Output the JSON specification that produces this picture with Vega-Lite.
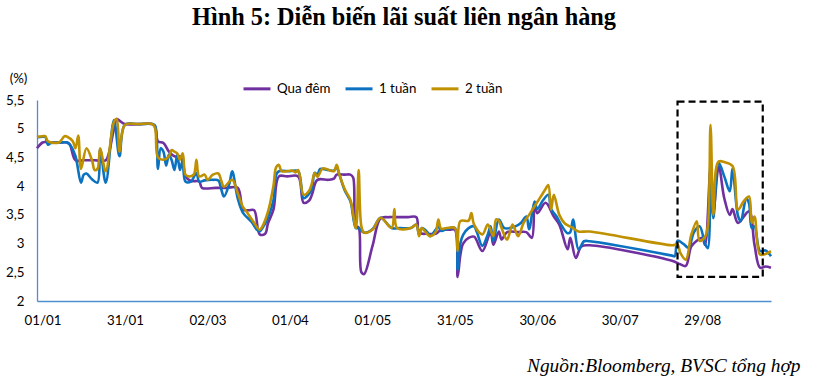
{
"$schema":"https://vega.github.io/schema/vega-lite/v6.json",
"width":734,"height":201,
"autosize":{"type":"none"},
"padding":{"left":37,"top":100,"right":45,"bottom":88},
"background":"white",
"config":{"view":{"stroke":null},"font":"Lato","locale":{"number":{"decimal":",","thousands":".","grouping":[3],"currency":["","đ"]}}},
"title":{"text":"Hình 5: Diễn biến lãi suất liên ngân hàng","font":"Liberation Serif","fontSize":24.3,"fontWeight":"bold","anchor":"middle","frame":"group","offset":41,"color":"#000"},
"datasets":{
"rates":[
{"d":"2018/12/30","s":"Qua đêm","v":4.66},{"d":"2019/01/01","s":"Qua đêm","v":4.76},{"d":"2019/01/02","s":"Qua đêm","v":4.77},{"d":"2019/01/04","s":"Qua đêm","v":4.76},{"d":"2019/01/07","s":"Qua đêm","v":4.76},{"d":"2019/01/10","s":"Qua đêm","v":4.76},{"d":"2019/01/11","s":"Qua đêm","v":4.72},{"d":"2019/01/13","s":"Qua đêm","v":4.45},{"d":"2019/01/16","s":"Qua đêm","v":4.45},{"d":"2019/01/20","s":"Qua đêm","v":4.45},{"d":"2019/01/24","s":"Qua đêm","v":4.45},{"d":"2019/01/25","s":"Qua đêm","v":4.55},{"d":"2019/01/27","s":"Qua đêm","v":5.0},{"d":"2019/01/28","s":"Qua đêm","v":5.17},{"d":"2019/01/29","s":"Qua đêm","v":5.14},{"d":"2019/01/31","s":"Qua đêm","v":5.08},{"d":"2019/02/05","s":"Qua đêm","v":5.08},{"d":"2019/02/10","s":"Qua đêm","v":5.08},{"d":"2019/02/11","s":"Qua đêm","v":5.03},{"d":"2019/02/12","s":"Qua đêm","v":4.78},{"d":"2019/02/14","s":"Qua đêm","v":4.75},{"d":"2019/02/16","s":"Qua đêm","v":4.6},{"d":"2019/02/18","s":"Qua đêm","v":4.52},{"d":"2019/02/20","s":"Qua đêm","v":4.52},{"d":"2019/02/21","s":"Qua đêm","v":4.45},{"d":"2019/02/22","s":"Qua đêm","v":4.17},{"d":"2019/02/24","s":"Qua đêm","v":4.09},{"d":"2019/02/27","s":"Qua đêm","v":4.08},{"d":"2019/02/28","s":"Qua đêm","v":3.97},{"d":"2019/03/05","s":"Qua đêm","v":3.97},{"d":"2019/03/09","s":"Qua đêm","v":3.97},{"d":"2019/03/13","s":"Qua đêm","v":3.97},{"d":"2019/03/15","s":"Qua đêm","v":3.59},{"d":"2019/03/17","s":"Qua đêm","v":3.58},{"d":"2019/03/19","s":"Qua đêm","v":3.58},{"d":"2019/03/21","s":"Qua đêm","v":3.16},{"d":"2019/03/23","s":"Qua đêm","v":3.17},{"d":"2019/03/24","s":"Qua đêm","v":3.35},{"d":"2019/03/26","s":"Qua đêm","v":3.59},{"d":"2019/03/28","s":"Qua đêm","v":4.17},{"d":"2019/03/31","s":"Qua đêm","v":4.17},{"d":"2019/04/04","s":"Qua đêm","v":4.17},{"d":"2019/04/06","s":"Qua đêm","v":3.71},{"d":"2019/04/08","s":"Qua đêm","v":3.75},{"d":"2019/04/09","s":"Qua đêm","v":3.85},{"d":"2019/04/11","s":"Qua đêm","v":4.11},{"d":"2019/04/15","s":"Qua đêm","v":4.11},{"d":"2019/04/17","s":"Qua đêm","v":4.13},{"d":"2019/04/18","s":"Qua đêm","v":4.2},{"d":"2019/04/21","s":"Qua đêm","v":4.2},{"d":"2019/04/23","s":"Qua đêm","v":4.2},{"d":"2019/04/24","s":"Qua đêm","v":4.15},{"d":"2019/04/25","s":"Qua đêm","v":3.3},{"d":"2019/04/26","s":"Qua đêm","v":3.28},{"d":"2019/04/27","s":"Qua đêm","v":2.5},{"d":"2019/04/28","s":"Qua đêm","v":2.47},{"d":"2019/05/01","s":"Qua đêm","v":2.95},{"d":"2019/05/04","s":"Qua đêm","v":3.44},{"d":"2019/05/07","s":"Qua đêm","v":3.46},{"d":"2019/05/11","s":"Qua đêm","v":3.46},{"d":"2019/05/14","s":"Qua đêm","v":3.46},{"d":"2019/05/17","s":"Qua đêm","v":3.46},{"d":"2019/05/18","s":"Qua đêm","v":3.19},{"d":"2019/05/21","s":"Qua đêm","v":3.17},{"d":"2019/05/24","s":"Qua đêm","v":3.17},{"d":"2019/05/26","s":"Qua đêm","v":3.24},{"d":"2019/05/29","s":"Qua đêm","v":3.24},{"d":"2019/05/31","s":"Qua đêm","v":3.24},{"d":"2019/06/01","s":"Qua đêm","v":2.42},{"d":"2019/06/02","s":"Qua đêm","v":2.8},{"d":"2019/06/03","s":"Qua đêm","v":3.0},{"d":"2019/06/05","s":"Qua đêm","v":3.1},{"d":"2019/06/07","s":"Qua đêm","v":3.12},{"d":"2019/06/10","s":"Qua đêm","v":2.87},{"d":"2019/06/13","s":"Qua đêm","v":3.2},{"d":"2019/06/14","s":"Qua đêm","v":2.98},{"d":"2019/06/16","s":"Qua đêm","v":3.21},{"d":"2019/06/17","s":"Qua đêm","v":3.07},{"d":"2019/06/19","s":"Qua đêm","v":3.2},{"d":"2019/06/23","s":"Qua đêm","v":3.2},{"d":"2019/06/26","s":"Qua đêm","v":3.2},{"d":"2019/06/28","s":"Qua đêm","v":3.1},{"d":"2019/06/29","s":"Qua đêm","v":3.71},{"d":"2019/06/30","s":"Qua đêm","v":3.53},{"d":"2019/07/03","s":"Qua đêm","v":3.71},{"d":"2019/07/06","s":"Qua đêm","v":3.47},{"d":"2019/07/08","s":"Qua đêm","v":3.33},{"d":"2019/07/11","s":"Qua đêm","v":2.9},{"d":"2019/07/12","s":"Qua đêm","v":3.1},{"d":"2019/07/14","s":"Qua đêm","v":2.75},{"d":"2019/07/16","s":"Qua đêm","v":2.95},{"d":"2019/07/19","s":"Qua đêm","v":2.97},{"d":"2019/08/18","s":"Qua đêm","v":2.7},{"d":"2019/08/21","s":"Qua đêm","v":2.64},{"d":"2019/08/23","s":"Qua đêm","v":2.61},{"d":"2019/08/25","s":"Qua đêm","v":2.95},{"d":"2019/08/27","s":"Qua đêm","v":3.05},{"d":"2019/08/29","s":"Qua đêm","v":3.1},{"d":"2019/08/30","s":"Qua đêm","v":2.98},{"d":"2019/09/01","s":"Qua đêm","v":4.31},{"d":"2019/09/02","s":"Qua đêm","v":3.53},{"d":"2019/09/04","s":"Qua đêm","v":4.34},{"d":"2019/09/06","s":"Qua đêm","v":3.79},{"d":"2019/09/08","s":"Qua đêm","v":3.5},{"d":"2019/09/09","s":"Qua đêm","v":3.6},{"d":"2019/09/11","s":"Qua đêm","v":3.36},{"d":"2019/09/15","s":"Qua đêm","v":3.56},{"d":"2019/09/17","s":"Qua đêm","v":2.98},{"d":"2019/09/19","s":"Qua đêm","v":2.58},{"d":"2019/09/21","s":"Qua đêm","v":2.6},{"d":"2019/09/23","s":"Qua đêm","v":2.58},
{"d":"2018/12/30","s":"1 tuần","v":4.85},{"d":"2019/01/01","s":"1 tuần","v":4.86},{"d":"2019/01/02","s":"1 tuần","v":4.86},{"d":"2019/01/03","s":"1 tuần","v":4.72},{"d":"2019/01/04","s":"1 tuần","v":4.75},{"d":"2019/01/07","s":"1 tuần","v":4.76},{"d":"2019/01/10","s":"1 tuần","v":4.76},{"d":"2019/01/11","s":"1 tuần","v":4.72},{"d":"2019/01/13","s":"1 tuần","v":4.52},{"d":"2019/01/15","s":"1 tuần","v":4.06},{"d":"2019/01/16","s":"1 tuần","v":4.2},{"d":"2019/01/17","s":"1 tuần","v":4.22},{"d":"2019/01/19","s":"1 tuần","v":4.12},{"d":"2019/01/21","s":"1 tuần","v":4.06},{"d":"2019/01/22","s":"1 tuần","v":4.64},{"d":"2019/01/24","s":"1 tuần","v":4.06},{"d":"2019/01/27","s":"1 tuần","v":5.15},{"d":"2019/01/29","s":"1 tuần","v":4.52},{"d":"2019/01/31","s":"1 tuần","v":5.07},{"d":"2019/02/05","s":"1 tuần","v":5.08},{"d":"2019/02/10","s":"1 tuần","v":5.08},{"d":"2019/02/11","s":"1 tuần","v":5.05},{"d":"2019/02/12","s":"1 tuần","v":4.3},{"d":"2019/02/13","s":"1 tuần","v":4.66},{"d":"2019/02/14","s":"1 tuần","v":4.6},{"d":"2019/02/15","s":"1 tuần","v":4.36},{"d":"2019/02/16","s":"1 tuần","v":4.55},{"d":"2019/02/17","s":"1 tuần","v":4.45},{"d":"2019/02/18","s":"1 tuần","v":4.28},{"d":"2019/02/19","s":"1 tuần","v":4.55},{"d":"2019/02/20","s":"1 tuần","v":4.28},{"d":"2019/02/21","s":"1 tuần","v":4.45},{"d":"2019/02/22","s":"1 tuần","v":4.08},{"d":"2019/02/24","s":"1 tuần","v":4.08},{"d":"2019/02/26","s":"1 tuần","v":4.23},{"d":"2019/02/27","s":"1 tuần","v":4.08},{"d":"2019/03/01","s":"1 tuần","v":4.1},{"d":"2019/03/04","s":"1 tuần","v":4.11},{"d":"2019/03/06","s":"1 tuần","v":4.1},{"d":"2019/03/07","s":"1 tuần","v":3.95},{"d":"2019/03/08","s":"1 tuần","v":3.82},{"d":"2019/03/10","s":"1 tuần","v":4.05},{"d":"2019/03/11","s":"1 tuần","v":4.26},{"d":"2019/03/13","s":"1 tuần","v":3.79},{"d":"2019/03/15","s":"1 tuần","v":3.53},{"d":"2019/03/18","s":"1 tuần","v":3.38},{"d":"2019/03/20","s":"1 tuần","v":3.24},{"d":"2019/03/21","s":"1 tuần","v":3.21},{"d":"2019/03/22","s":"1 tuần","v":3.27},{"d":"2019/03/24","s":"1 tuần","v":3.45},{"d":"2019/03/26","s":"1 tuần","v":3.75},{"d":"2019/03/27","s":"1 tuần","v":4.2},{"d":"2019/03/28","s":"1 tuần","v":4.26},{"d":"2019/04/01","s":"1 tuần","v":4.26},{"d":"2019/04/04","s":"1 tuần","v":4.26},{"d":"2019/04/06","s":"1 tuần","v":3.79},{"d":"2019/04/08","s":"1 tuần","v":3.87},{"d":"2019/04/09","s":"1 tuần","v":3.95},{"d":"2019/04/10","s":"1 tuần","v":4.23},{"d":"2019/04/11","s":"1 tuần","v":4.2},{"d":"2019/04/12","s":"1 tuần","v":4.3},{"d":"2019/04/15","s":"1 tuần","v":4.28},{"d":"2019/04/17","s":"1 tuần","v":4.27},{"d":"2019/04/18","s":"1 tuần","v":4.33},{"d":"2019/04/19","s":"1 tuần","v":4.2},{"d":"2019/04/21","s":"1 tuần","v":3.92},{"d":"2019/04/23","s":"1 tuần","v":3.74},{"d":"2019/04/25","s":"1 tuần","v":3.27},{"d":"2019/04/26","s":"1 tuần","v":3.27},{"d":"2019/04/28","s":"1 tuần","v":3.19},{"d":"2019/05/01","s":"1 tuần","v":3.25},{"d":"2019/05/04","s":"1 tuần","v":3.45},{"d":"2019/05/08","s":"1 tuần","v":3.27},{"d":"2019/05/11","s":"1 tuần","v":3.27},{"d":"2019/05/15","s":"1 tuần","v":3.27},{"d":"2019/05/17","s":"1 tuần","v":3.33},{"d":"2019/05/18","s":"1 tuần","v":3.16},{"d":"2019/05/19","s":"1 tuần","v":3.27},{"d":"2019/05/21","s":"1 tuần","v":3.2},{"d":"2019/05/22","s":"1 tuần","v":3.13},{"d":"2019/05/24","s":"1 tuần","v":3.24},{"d":"2019/05/25","s":"1 tuần","v":3.3},{"d":"2019/05/26","s":"1 tuần","v":3.22},{"d":"2019/05/28","s":"1 tuần","v":3.25},{"d":"2019/05/31","s":"1 tuần","v":3.27},{"d":"2019/06/01","s":"1 tuần","v":2.55},{"d":"2019/06/02","s":"1 tuần","v":3.0},{"d":"2019/06/03","s":"1 tuần","v":3.15},{"d":"2019/06/05","s":"1 tuần","v":3.27},{"d":"2019/06/07","s":"1 tuần","v":3.3},{"d":"2019/06/08","s":"1 tuần","v":3.2},{"d":"2019/06/10","s":"1 tuần","v":2.96},{"d":"2019/06/12","s":"1 tuần","v":3.16},{"d":"2019/06/13","s":"1 tuần","v":3.3},{"d":"2019/06/14","s":"1 tuần","v":3.04},{"d":"2019/06/16","s":"1 tuần","v":3.42},{"d":"2019/06/18","s":"1 tuần","v":3.27},{"d":"2019/06/22","s":"1 tuần","v":3.3},{"d":"2019/06/24","s":"1 tuần","v":3.36},{"d":"2019/06/26","s":"1 tuần","v":3.47},{"d":"2019/06/27","s":"1 tuần","v":3.25},{"d":"2019/06/29","s":"1 tuần","v":3.73},{"d":"2019/06/30","s":"1 tuần","v":3.6},{"d":"2019/07/02","s":"1 tuần","v":3.75},{"d":"2019/07/04","s":"1 tuần","v":3.85},{"d":"2019/07/05","s":"1 tuần","v":3.6},{"d":"2019/07/07","s":"1 tuần","v":3.47},{"d":"2019/07/09","s":"1 tuần","v":3.3},{"d":"2019/07/11","s":"1 tuần","v":3.18},{"d":"2019/07/12","s":"1 tuần","v":3.2},{"d":"2019/07/13","s":"1 tuần","v":3.42},{"d":"2019/07/15","s":"1 tuần","v":2.9},{"d":"2019/07/17","s":"1 tuần","v":3.04},{"d":"2019/07/19","s":"1 tuần","v":3.04},{"d":"2019/08/18","s":"1 tuần","v":2.79},{"d":"2019/08/19","s":"1 tuần","v":2.78},{"d":"2019/08/20","s":"1 tuần","v":3.05},{"d":"2019/08/22","s":"1 tuần","v":3.0},{"d":"2019/08/24","s":"1 tuần","v":2.93},{"d":"2019/08/26","s":"1 tuần","v":3.2},{"d":"2019/08/28","s":"1 tuần","v":3.3},{"d":"2019/08/30","s":"1 tuần","v":3.0},{"d":"2019/08/31","s":"1 tuần","v":2.92},{"d":"2019/09/01","s":"1 tuần","v":4.43},{"d":"2019/09/02","s":"1 tuần","v":3.44},{"d":"2019/09/04","s":"1 tuần","v":4.4},{"d":"2019/09/06","s":"1 tuần","v":4.17},{"d":"2019/09/08","s":"1 tuần","v":3.91},{"d":"2019/09/09","s":"1 tuần","v":4.31},{"d":"2019/09/11","s":"1 tuần","v":3.48},{"d":"2019/09/12","s":"1 tuần","v":3.39},{"d":"2019/09/14","s":"1 tuần","v":3.79},{"d":"2019/09/15","s":"1 tuần","v":3.7},{"d":"2019/09/16","s":"1 tuần","v":3.27},{"d":"2019/09/17","s":"1 tuần","v":3.3},{"d":"2019/09/19","s":"1 tuần","v":2.87},{"d":"2019/09/21","s":"1 tuần","v":2.88},{"d":"2019/09/23","s":"1 tuần","v":2.78},
{"d":"2018/12/30","s":"2 tuần","v":4.86},{"d":"2019/01/01","s":"2 tuần","v":4.87},{"d":"2019/01/02","s":"2 tuần","v":4.87},{"d":"2019/01/03","s":"2 tuần","v":4.78},{"d":"2019/01/07","s":"2 tuần","v":4.76},{"d":"2019/01/09","s":"2 tuần","v":4.87},{"d":"2019/01/10","s":"2 tuần","v":4.86},{"d":"2019/01/12","s":"2 tuần","v":4.78},{"d":"2019/01/13","s":"2 tuần","v":4.66},{"d":"2019/01/14","s":"2 tuần","v":4.88},{"d":"2019/01/15","s":"2 tuần","v":4.3},{"d":"2019/01/17","s":"2 tuần","v":4.66},{"d":"2019/01/19","s":"2 tuần","v":4.45},{"d":"2019/01/20","s":"2 tuần","v":4.28},{"d":"2019/01/21","s":"2 tuần","v":4.3},{"d":"2019/01/22","s":"2 tuần","v":4.66},{"d":"2019/01/24","s":"2 tuần","v":4.26},{"d":"2019/01/27","s":"2 tuần","v":5.12},{"d":"2019/01/28","s":"2 tuần","v":5.17},{"d":"2019/01/29","s":"2 tuần","v":4.6},{"d":"2019/01/31","s":"2 tuần","v":5.07},{"d":"2019/02/05","s":"2 tuần","v":5.08},{"d":"2019/02/10","s":"2 tuần","v":5.08},{"d":"2019/02/11","s":"2 tuần","v":5.0},{"d":"2019/02/12","s":"2 tuần","v":4.5},{"d":"2019/02/14","s":"2 tuần","v":4.46},{"d":"2019/02/16","s":"2 tuần","v":4.52},{"d":"2019/02/17","s":"2 tuần","v":4.63},{"d":"2019/02/18","s":"2 tuần","v":4.6},{"d":"2019/02/19","s":"2 tuần","v":4.57},{"d":"2019/02/20","s":"2 tuần","v":4.46},{"d":"2019/02/21","s":"2 tuần","v":4.57},{"d":"2019/02/22","s":"2 tuần","v":4.2},{"d":"2019/02/23","s":"2 tuần","v":4.17},{"d":"2019/02/25","s":"2 tuần","v":4.2},{"d":"2019/02/26","s":"2 tuần","v":4.46},{"d":"2019/02/27","s":"2 tuần","v":4.17},{"d":"2019/03/01","s":"2 tuần","v":4.2},{"d":"2019/03/02","s":"2 tuần","v":4.11},{"d":"2019/03/04","s":"2 tuần","v":4.2},{"d":"2019/03/06","s":"2 tuần","v":4.22},{"d":"2019/03/07","s":"2 tuần","v":4.1},{"d":"2019/03/08","s":"2 tuần","v":3.99},{"d":"2019/03/11","s":"2 tuần","v":4.11},{"d":"2019/03/13","s":"2 tuần","v":3.88},{"d":"2019/03/15","s":"2 tuần","v":3.63},{"d":"2019/03/16","s":"2 tuần","v":3.57},{"d":"2019/03/19","s":"2 tuần","v":3.36},{"d":"2019/03/21","s":"2 tuần","v":3.24},{"d":"2019/03/22","s":"2 tuần","v":3.3},{"d":"2019/03/24","s":"2 tuần","v":3.55},{"d":"2019/03/26","s":"2 tuần","v":4.0},{"d":"2019/03/27","s":"2 tuần","v":4.33},{"d":"2019/03/28","s":"2 tuần","v":4.37},{"d":"2019/03/29","s":"2 tuần","v":4.26},{"d":"2019/04/02","s":"2 tuần","v":4.27},{"d":"2019/04/03","s":"2 tuần","v":4.24},{"d":"2019/04/04","s":"2 tuần","v":4.28},{"d":"2019/04/06","s":"2 tuần","v":3.85},{"d":"2019/04/08","s":"2 tuần","v":3.92},{"d":"2019/04/09","s":"2 tuần","v":4.05},{"d":"2019/04/10","s":"2 tuần","v":4.23},{"d":"2019/04/11","s":"2 tuần","v":4.16},{"d":"2019/04/13","s":"2 tuần","v":4.31},{"d":"2019/04/17","s":"2 tuần","v":4.26},{"d":"2019/04/18","s":"2 tuần","v":4.37},{"d":"2019/04/19","s":"2 tuần","v":4.2},{"d":"2019/04/21","s":"2 tuần","v":3.94},{"d":"2019/04/23","s":"2 tuần","v":3.76},{"d":"2019/04/25","s":"2 tuần","v":3.27},{"d":"2019/04/26","s":"2 tuần","v":4.28},{"d":"2019/04/27","s":"2 tuần","v":3.3},{"d":"2019/04/28","s":"2 tuần","v":3.19},{"d":"2019/05/01","s":"2 tuần","v":3.24},{"d":"2019/05/04","s":"2 tuần","v":3.45},{"d":"2019/05/08","s":"2 tuần","v":3.27},{"d":"2019/05/09","s":"2 tuần","v":3.6},{"d":"2019/05/10","s":"2 tuần","v":3.27},{"d":"2019/05/15","s":"2 tuần","v":3.27},{"d":"2019/05/17","s":"2 tuần","v":3.33},{"d":"2019/05/18","s":"2 tuần","v":3.13},{"d":"2019/05/19","s":"2 tuần","v":3.27},{"d":"2019/05/20","s":"2 tuần","v":3.22},{"d":"2019/05/22","s":"2 tuần","v":3.13},{"d":"2019/05/24","s":"2 tuần","v":3.2},{"d":"2019/05/25","s":"2 tuần","v":3.42},{"d":"2019/05/26","s":"2 tuần","v":3.26},{"d":"2019/05/28","s":"2 tuần","v":3.27},{"d":"2019/05/31","s":"2 tuần","v":3.27},{"d":"2019/06/01","s":"2 tuần","v":2.87},{"d":"2019/06/02","s":"2 tuần","v":3.39},{"d":"2019/06/05","s":"2 tuần","v":3.4},{"d":"2019/06/06","s":"2 tuần","v":3.53},{"d":"2019/06/07","s":"2 tuần","v":3.33},{"d":"2019/06/10","s":"2 tuần","v":3.16},{"d":"2019/06/12","s":"2 tuần","v":3.33},{"d":"2019/06/14","s":"2 tuần","v":3.13},{"d":"2019/06/15","s":"2 tuần","v":3.42},{"d":"2019/06/16","s":"2 tuần","v":3.4},{"d":"2019/06/17","s":"2 tuần","v":3.27},{"d":"2019/06/19","s":"2 tuần","v":3.07},{"d":"2019/06/21","s":"2 tuần","v":3.33},{"d":"2019/06/23","s":"2 tuần","v":3.13},{"d":"2019/06/25","s":"2 tuần","v":3.36},{"d":"2019/06/27","s":"2 tuần","v":3.5},{"d":"2019/06/29","s":"2 tuần","v":3.65},{"d":"2019/07/01","s":"2 tuần","v":3.8},{"d":"2019/07/03","s":"2 tuần","v":3.95},{"d":"2019/07/04","s":"2 tuần","v":4.02},{"d":"2019/07/05","s":"2 tuần","v":3.59},{"d":"2019/07/06","s":"2 tuần","v":3.85},{"d":"2019/07/08","s":"2 tuần","v":3.5},{"d":"2019/07/10","s":"2 tuần","v":3.35},{"d":"2019/07/13","s":"2 tuần","v":3.27},{"d":"2019/07/15","s":"2 tuần","v":3.21},{"d":"2019/07/19","s":"2 tuần","v":3.21},{"d":"2019/08/18","s":"2 tuần","v":2.97},{"d":"2019/08/20","s":"2 tuần","v":2.98},{"d":"2019/08/21","s":"2 tuần","v":2.84},{"d":"2019/08/23","s":"2 tuần","v":2.72},{"d":"2019/08/25","s":"2 tuần","v":3.15},{"d":"2019/08/27","s":"2 tuần","v":3.39},{"d":"2019/08/28","s":"2 tuần","v":3.05},{"d":"2019/08/30","s":"2 tuần","v":3.12},{"d":"2019/08/31","s":"2 tuần","v":3.3},{"d":"2019/09/01","s":"2 tuần","v":5.07},{"d":"2019/09/02","s":"2 tuần","v":3.5},{"d":"2019/09/03","s":"2 tuần","v":4.3},{"d":"2019/09/04","s":"2 tuần","v":4.43},{"d":"2019/09/06","s":"2 tuần","v":4.42},{"d":"2019/09/09","s":"2 tuần","v":4.35},{"d":"2019/09/11","s":"2 tuần","v":3.59},{"d":"2019/09/13","s":"2 tuần","v":3.73},{"d":"2019/09/15","s":"2 tuần","v":3.82},{"d":"2019/09/16","s":"2 tuần","v":3.36},{"d":"2019/09/17","s":"2 tuần","v":3.47},{"d":"2019/09/19","s":"2 tuần","v":2.81},{"d":"2019/09/21","s":"2 tuần","v":2.82},{"d":"2019/09/23","s":"2 tuần","v":2.87}
],
"box":[{"x1":"2019/08/20","x2":"2019/09/20","y1":2.42,"y2":5.47}]
},
"layer":[
{"data":{"name":"rates"},
 "mark":{"type":"line","interpolate":"catmull-rom","strokeWidth":2.6},
 "encoding":{
  "x":{"field":"d","type":"temporal",
   "scale":{"domain":[{"year":2018,"month":12,"date":30},{"year":2019,"month":9,"date":23}]},
   "axis":{"values":[{"year":2019,"month":1,"date":1},{"year":2019,"month":1,"date":31},{"year":2019,"month":3,"date":2},{"year":2019,"month":4,"date":1},{"year":2019,"month":5,"date":1},{"year":2019,"month":5,"date":31},{"year":2019,"month":6,"date":30},{"year":2019,"month":7,"date":30},{"year":2019,"month":8,"date":29}],
    "format":"%d/%m","labelFont":"Lato","labelFontSize":13.3,"labelColor":"#000","ticks":false,"labelPadding":12,"domainColor":"#4F8FD0","domainWidth":1.3,"grid":false,"labelAlign":"center","labelBaseline":"top","labelFlush":false,"labelOverlap":false,
    "title":"Nguồn:Bloomberg, BVSC tổng hợp","titleFont":"Liberation Serif","titleFontStyle":"italic","titleFontWeight":"normal","titleFontSize":19.4,"titleColor":"#000","titleX":763,"titleY":70,"titleAlign":"right","titleBaseline":"alphabetic"}},
  "y":{"field":"v","type":"quantitative","scale":{"domain":[2,5.5],"nice":false,"zero":false},
   "axis":{"values":[2,2.5,3,3.5,4,4.5,5,5.5],"format":"~g","labelFont":"Lato","labelFontSize":13.3,"labelColor":"#000","ticks":false,"labelPadding":13,"labelOverlap":false,"labelBound":false,"labelFlush":false,"domainColor":"#4F8FD0","domainWidth":1.3,"grid":false,
    "title":"(%)","titleAngle":0,"titleX":-19,"titleY":-22,"titleAlign":"center","titleBaseline":"middle","titleFont":"Lato","titleFontSize":13.3,"titleFontWeight":"normal","titleColor":"#000"}},
  "color":{"field":"s","type":"nominal","scale":{"domain":["Qua đêm","1 tuần","2 tuần"],"range":["#7030A0","#0A72C0","#BF9000"]},
   "legend":{"title":null,"orient":"none","direction":"horizontal","legendX":205,"legendY":-26.5,"padding":0,"symbolType":"stroke","symbolSize":729,"symbolStrokeWidth":3,"labelFont":"Lato","labelFontSize":13.3,"labelColor":"#000","labelOffset":5,"columnPadding":8}}
 }},
{"data":{"name":"box"},
 "mark":{"type":"rect","fillOpacity":0,"stroke":"#000","strokeWidth":2.2,"strokeDash":[7,4]},
 "encoding":{"x":{"field":"x1","type":"temporal"},"x2":{"field":"x2"},"y":{"field":"y1","type":"quantitative","axis":{"values":[2,2.5,3,3.5,4,4.5,5,5.5],"format":"~g"}},"y2":{"field":"y2"}}}
]
}
